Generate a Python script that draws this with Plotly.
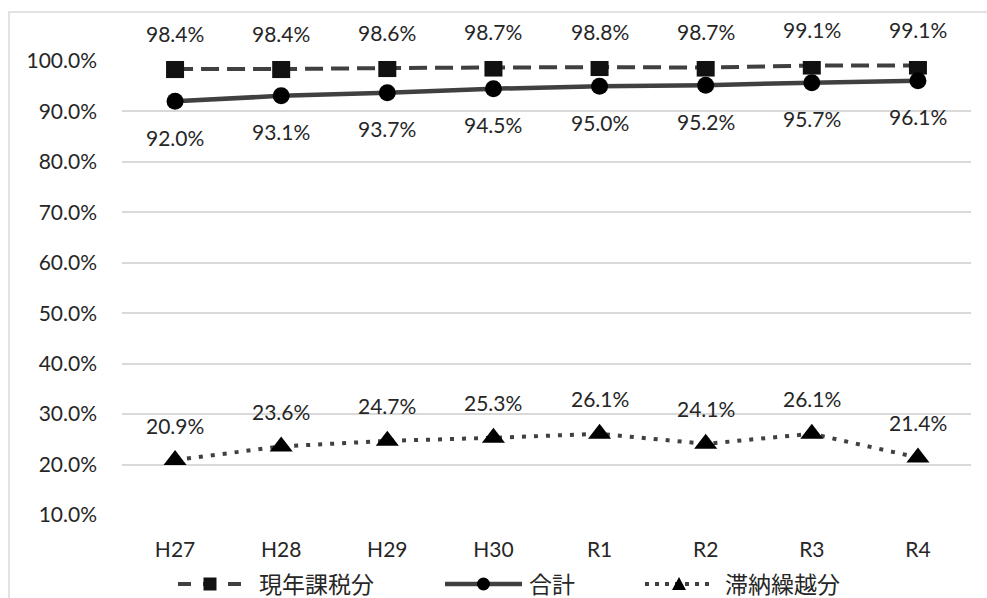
import plotly.graph_objects as go

# Fiscal years
categories = ["H27", "H28", "H29", "H30", "R1", "R2", "R3", "R4"]

# Collection rates (fraction)
current_year = [0.984, 0.984, 0.986, 0.987, 0.988, 0.987, 0.991, 0.991]
total = [0.920, 0.931, 0.937, 0.945, 0.950, 0.952, 0.957, 0.961]
arrears = [0.209, 0.236, 0.247, 0.253, 0.261, 0.241, 0.261, 0.214]

series_names = ["現年課税分", "合計", "滞納繰越分"]

FONT = "Lato, 'Noto Sans CJK JP', sans-serif"
LINE_COLOR = "#404040"
TEXT_COLOR = "#262626"

W, H = 987, 598
ML, MR, MT, MB = 122, 16, 61, 83
PW, PH = W - ML - MR, H - MT - MB


def px_x(px):
    """Convert a horizontal pixel position to paper coordinates."""
    return (px - ML) / PW


def px_y(py):
    """Convert a vertical pixel position (from the top) to paper coordinates."""
    return (H - MB - py) / PH


fig = go.Figure()

fig.add_trace(go.Scatter(
    x=categories, y=current_year, name=series_names[0], mode="lines+markers",
    line=dict(color=LINE_COLOR, width=4, dash="18px,8px"),
    marker=dict(symbol="square", size=18, color="#111111"),
))
fig.add_trace(go.Scatter(
    x=categories, y=total, name=series_names[1], mode="lines+markers",
    line=dict(color=LINE_COLOR, width=4.5),
    marker=dict(symbol="circle", size=17, color="#000000"),
))
fig.add_trace(go.Scatter(
    x=categories, y=arrears, name=series_names[2], mode="lines+markers",
    line=dict(color=LINE_COLOR, width=4, dash="4px,8px"),
    marker=dict(symbol="triangle-up", size=20, color="#000000"),
))

# Value labels: above for the current-year and arrears series, below for the total
annotations = []
for values, shift in ((current_year, 36), (total, -36), (arrears, 35)):
    for c, v in zip(categories, values):
        annotations.append(dict(
            x=c, y=v, xref="x", yref="y", text=f"{v * 100:.1f}%",
            showarrow=False, yshift=shift,
            font=dict(family=FONT, size=21, color=TEXT_COLOR),
        ))

# Legend row drawn below the axis
LEG_Y = 584
shapes = []
legend_items = [
    # (line start, line end, text start, dash, line width, symbol)
    (178, 242, 257, "13px,12px", 4, "square"),
    (445, 522, 527, "solid", 4.5, "circle"),
    (645, 713, 723, "4px,6px", 4, "triangle"),
]
for name, (x0, x1, tx, dash, lw, sym) in zip(series_names, legend_items):
    shapes.append(dict(
        type="line", xref="paper", yref="paper",
        x0=px_x(x0), x1=px_x(x1), y0=px_y(LEG_Y), y1=px_y(LEG_Y),
        line=dict(color=LINE_COLOR, width=lw, dash=dash),
    ))
    cx = (x0 + x1) / 2
    if sym == "square":
        shapes.append(dict(
            type="rect", xref="paper", yref="paper",
            x0=px_x(cx - 6.5), x1=px_x(cx + 6.5),
            y0=px_y(LEG_Y + 6.5), y1=px_y(LEG_Y - 6.5),
            line=dict(width=0), fillcolor="#111111",
        ))
    elif sym == "circle":
        shapes.append(dict(
            type="circle", xref="paper", yref="paper",
            x0=px_x(cx - 6.5), x1=px_x(cx + 6.5),
            y0=px_y(LEG_Y + 6.5), y1=px_y(LEG_Y - 6.5),
            line=dict(width=0), fillcolor="#000000",
        ))
    else:
        path = (f"M {px_x(cx - 7)},{px_y(LEG_Y + 6)} "
                f"L {px_x(cx + 7)},{px_y(LEG_Y + 6)} "
                f"L {px_x(cx)},{px_y(LEG_Y - 7)} Z")
        shapes.append(dict(
            type="path", xref="paper", yref="paper", path=path,
            line=dict(width=0), fillcolor="#000000",
        ))
    annotations.append(dict(
        x=px_x(tx), y=px_y(LEG_Y), xref="paper", yref="paper",
        xanchor="left", yanchor="middle", text=name, showarrow=False,
        font=dict(family=FONT, size=23, color=TEXT_COLOR),
    ))

# Chart frame
shapes.append(dict(
    type="rect", xref="paper", yref="paper",
    x0=px_x(9), x1=px_x(1000), y0=px_y(610), y1=px_y(12),
    line=dict(color="#d9d9d9", width=1.5), fillcolor="rgba(0,0,0,0)",
    layer="below",
))

fig.update_layout(
    width=W, height=H,
    margin=dict(l=ML, r=MR, t=MT, b=MB),
    paper_bgcolor="white", plot_bgcolor="white",
    font=dict(family=FONT, size=21, color=TEXT_COLOR),
    showlegend=False,
    annotations=annotations,
    shapes=shapes,
    hovermode=False,
)

fig.update_xaxes(
    type="category", range=[-0.5, len(categories) - 0.5],
    showgrid=False, zeroline=False, showline=False, ticks="",
    ticklabelstandoff=20, tickfont=dict(family=FONT, size=21, color=TEXT_COLOR),
)
fig.update_yaxes(
    range=[0.1, 1.0], tick0=0.1, dtick=0.1, tickformat=".1%",
    showgrid=True, gridcolor="#d9d9d9", gridwidth=1.5,
    zeroline=False, showline=False, ticks="",
    ticklabelstandoff=24, tickfont=dict(family=FONT, size=21, color=TEXT_COLOR),
)

fig.write_html("out.html")
